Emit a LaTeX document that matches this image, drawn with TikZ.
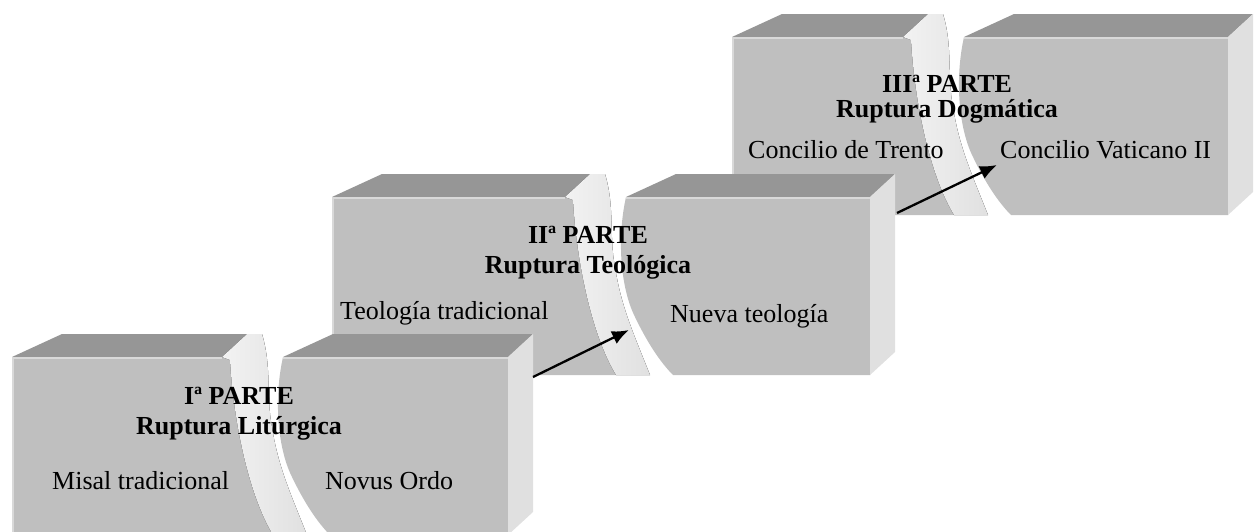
\documentclass[tikz,border=0pt]{standalone}
\usepackage{fontspec}
\setmainfont{Liberation Serif}
\usetikzlibrary{arrows.meta}

\definecolor{facefront}{gray}{0.75}
\definecolor{facetop}{gray}{0.59}
\definecolor{faceside}{gray}{0.88}
\definecolor{facetwist}{gray}{0.86}

\begin{document}
\begin{tikzpicture}[x=1pt,y=-1pt,
  frontface/.style={fill=facefront},
  topface/.style={fill=facetop},
  sideface/.style={fill=faceside},
  rim/.style={draw=facefront!60!white,line width=1.5pt},
  twistface/.style={left color=gray!10,right color=gray!24},
  head/.style={font=\fontsize{26}{30}\selectfont\bfseries,anchor=base,inner sep=0pt},
  item/.style={font=\fontsize{26}{30}\selectfont,anchor=base west,inner sep=0pt},
  link/.style={-{Latex[length=17pt,width=14pt]},line width=2.3pt}]
	\useasboundingbox (0,0) rectangle (1260,531);
	\clip (0,0) rectangle (1260,531);
	% the three stages, back to front
	\foreach \xo/\yo/\tx/\xr in {732/37/171/496, 332/197/233/538, 12/357/210/496} {
		\begin{scope}[shift={(\xo,\yo)}]
			% left block
			\fill[topface] (0,0) -- (50,-23) -- (\tx+25,-23) -- (\tx,0) -- cycle;
			\fill[frontface] (0,0) -- (\tx,0) -- (\tx+8,3) .. controls (\tx+12,70) and (\tx+28,140) .. (\tx+51,178) -- (0,178) -- cycle;
			\draw[rim] (0.75,178) -- (0.75,0.75) -- (\tx,0.75);
			% twist
			\fill[twistface] (\tx+25,-23) -- (\tx+40,-23) .. controls (\tx+50,10) and (\tx+44,40) .. (\tx+50,70)
				.. controls (\tx+56,110) and (\tx+70,140) .. (\tx+85,178) -- (\tx+51,178)
				.. controls (\tx+28,140) and (\tx+12,70) .. (\tx+8,3) -- (\tx,0) -- cycle;
			% right block
			\fill[topface] (\tx+61,0) -- (\tx+111,-23) -- (\xr+25,-23) -- (\xr,0) -- cycle;
			\fill[frontface] (\tx+61,0) -- (\xr,0) -- (\xr,178) -- (\tx+108,178)
				.. controls (\tx+95,165) and (\tx+82,145) .. (\tx+70,120)
				.. controls (\tx+55,90) and (\tx+52,40) .. (\tx+61,0) -- cycle;
			\draw[rim] (\tx+61,0.75) -- (\xr,0.75);
			\fill[sideface] (\xr,0) -- (\xr+25,-23) -- (\xr+25,155) -- (\xr,178) -- cycle;
		\end{scope}
	}

	% texts
	\node[head] (parte3) at (947,92) {IIIª PARTE};
	\node[head] (rup3) at (947,117) {Ruptura Dogmática};
	\node[item] (trento) at (748,158) {Concilio de Trento};
	\node[item] (vaticano) at (1000,158) {Concilio Vaticano II};

	\node[head] (parte2) at (588,243) {IIª PARTE};
	\node[head] (rup2) at (588,273) {Ruptura Teológica};
	\node[item] (teotrad) at (340,319) {Teología tradicional};
	\node[item] (teonueva) at (670,322) {Nueva teología};

	\node[head] (parte1) at (239,404) {Iª PARTE};
	\node[head] (rup1) at (239,434) {Ruptura Litúrgica};
	\node[item] (misal) at (52,489) {Misal tradicional};
	\node[item] (novus) at (325,489) {Novus Ordo};

	% arrows between stages
	\coordinate (out1) at (533,377);
	\coordinate (in2) at (629,330);
	\coordinate (out2) at (897,213);
	\coordinate (in3) at (997,165);
	\draw[link] (out1) -- (in2);
	\draw[link] (out2) -- (in3);
\end{tikzpicture}
\end{document}
